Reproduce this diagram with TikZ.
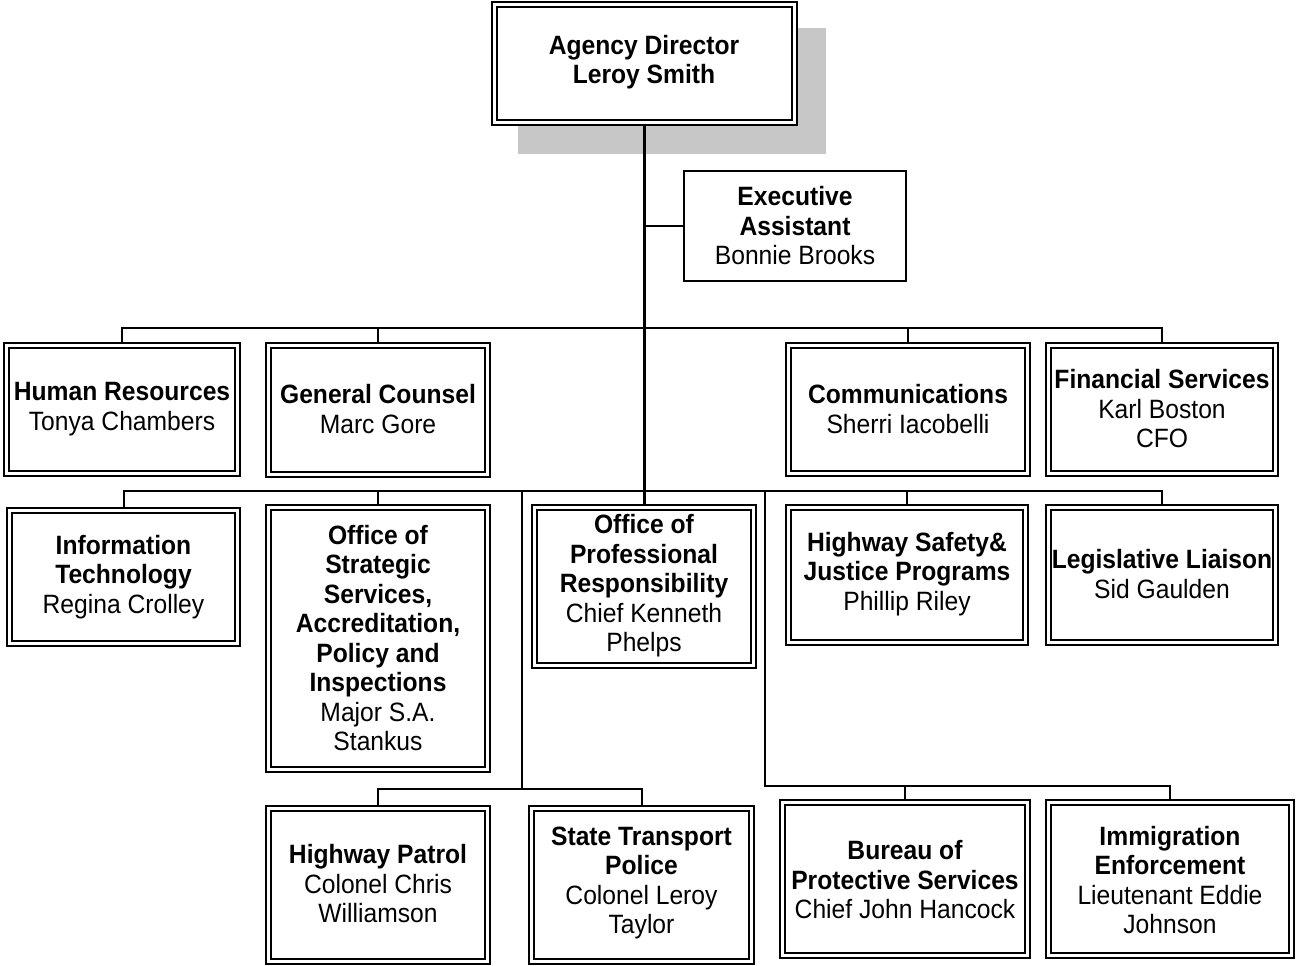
\documentclass[tikz,border=0pt]{standalone}
\usepackage{fontspec}
\setmainfont[FakeStretch=0.93]{Liberation Sans}
\begin{document}
\begin{tikzpicture}[x=1pt,y=-1pt,
  dbox/.style={draw, double, double distance=3pt, line width=2pt, fill=white, inner sep=0pt, outer sep=3.5pt, rectangle},
  sbox/.style={draw, line width=2pt, fill=white, inner sep=0pt, outer sep=1pt, rectangle},
  txt/.style={align=center, inner sep=0pt, fill=white, font=\fontsize{26.5}{29.5}\selectfont},
  link/.style={line width=2pt},
  trunk/.style={line width=3pt}]
\clip (0,0) rectangle (1296,966);
\fill[white] (0,0) rectangle (1296,966);
% shadow of the top box
\fill[black!22] (518,28) rectangle (826,154);
% boxes
\node[dbox, minimum width=300pt, minimum height=117pt] (dir) at (644,63.5) {};
\node[sbox, minimum width=222pt, minimum height=110pt] (exec) at (795,226) {};
\node[dbox, minimum width=231pt, minimum height=128pt] (hr) at (122,409.5) {};
\node[dbox, minimum width=219pt, minimum height=129pt] (gc) at (378,410) {};
\node[dbox, minimum width=239pt, minimum height=128pt] (comm) at (908,409.5) {};
\node[dbox, minimum width=227pt, minimum height=128pt] (fs) at (1162,409.5) {};
\node[dbox, minimum width=228pt, minimum height=133pt] (it) at (123.5,577) {};
\node[dbox, minimum width=219pt, minimum height=262pt] (oss) at (378,638.5) {};
\node[dbox, minimum width=219pt, minimum height=158pt] (opr) at (644,586.5) {};
\node[dbox, minimum width=237pt, minimum height=135pt] (hsj) at (907,575) {};
\node[dbox, minimum width=227pt, minimum height=135pt] (ll) at (1162,575) {};
\node[dbox, minimum width=219pt, minimum height=153pt] (hp) at (378,885) {};
\node[dbox, minimum width=220pt, minimum height=153pt] (stp) at (641.5,885) {};
\node[dbox, minimum width=245pt, minimum height=153pt] (bps) at (905,879) {};
\node[dbox, minimum width=243pt, minimum height=153pt] (imm) at (1170,879) {};
% junction coordinates
\coordinate (bus1) at (644,328);
\coordinate (bus2) at (644,491);
\coordinate (l3top) at (522,491);
\coordinate (l3) at (522,789);
\coordinate (r3top) at (765,491);
\coordinate (r3) at (765,786);
% connectors
\draw[trunk] (dir.south) -- (opr.north);
\draw[link] (dir.south |- exec.west) -- (exec.west);
\draw[link] (hr.north) |- (bus1) -| (fs.north);
\draw[link] (gc.north) -- (gc.north |- bus1);
\draw[link] (comm.north) -- (comm.north |- bus1);
\draw[link] (it.north) |- (bus2) -| (ll.north);
\draw[link] (oss.north) -- (oss.north |- bus2);
\draw[link] (hsj.north) -- (hsj.north |- bus2);
\draw[link] (l3top) -- (l3);
\draw[link] (hp.north) |- (l3) -| (stp.north);
\draw[link] (r3top) -- (r3) -| (imm.north);
\draw[link] (bps.north) -- (bps.north |- r3);
% texts
\node[txt] (dir-t) at (644,62) {\textbf{Agency Director}\\\textbf{Leroy Smith}};
\node[txt] (exec-t) at (795,226) {\textbf{Executive}\\\textbf{Assistant}\\Bonnie Brooks};
\node[txt] (hr-t) at (122,409) {\textbf{Human Resources}\\Tonya Chambers};
\node[txt] (gc-t) at (378,409) {\textbf{General Counsel}\\Marc Gore};
\node[txt] (comm-t) at (908,409) {\textbf{Communications}\\Sherri Iacobelli};
\node[txt] (fs-t) at (1162,409) {\textbf{Financial Services}\\Karl Boston\\CFO};
\node[txt] (it-t) at (123.5,577) {\textbf{Information}\\\textbf{Technology}\\Regina Crolley};
\node[txt] (oss-t) at (378,638) {\textbf{Office of}\\\textbf{Strategic}\\\textbf{Services,}\\\textbf{Accreditation,}\\\textbf{Policy and}\\\textbf{Inspections}\\Major S.A.\\Stankus};
\node[txt] (opr-t) at (644,586) {\textbf{Office of}\\\textbf{Professional}\\\textbf{Responsibility}\\Chief Kenneth\\Phelps};
\node[txt] (hsj-t) at (907,574) {\textbf{Highway Safety\&}\\\textbf{Justice Programs}\\Phillip Riley};
\node[txt] (ll-t) at (1162,574) {\textbf{Legislative Liaison}\\Sid Gaulden};
\node[txt] (hp-t) at (378,884) {\textbf{Highway Patrol}\\Colonel Chris\\Williamson};
\node[txt] (stp-t) at (641.5,883) {\textbf{State Transport}\\\textbf{Police}\\Colonel Leroy\\Taylor};
\node[txt] (bps-t) at (905,880) {\textbf{Bureau of}\\\textbf{Protective Services}\\Chief John Hancock};
\node[txt] (imm-t) at (1170,880) {\textbf{Immigration}\\\textbf{Enforcement}\\Lieutenant Eddie\\Johnson};
\end{tikzpicture}
\end{document}
